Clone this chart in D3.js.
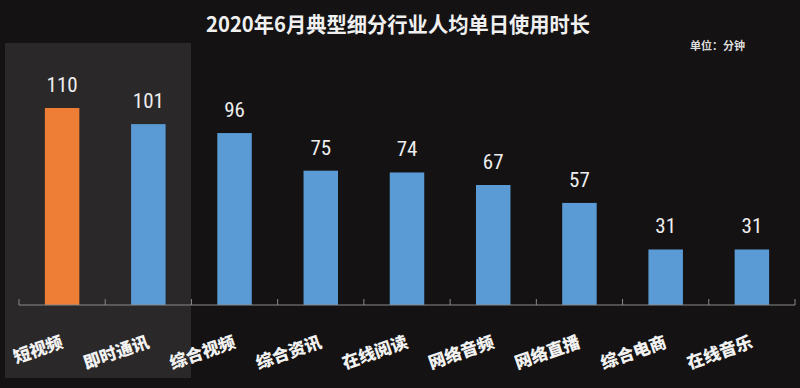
<!DOCTYPE html>
<html><head><meta charset="utf-8">
<script src="https://cdn.jsdelivr.net/npm/d3@7/dist/d3.min.js"></script>
<style>body{margin:0;background:#141213;}svg{display:block;}</style>
</head><body><svg id="c" width="800" height="388"></svg>
<script>
const categories = ["短视频","即时通讯","综合视频","综合资讯","在线阅读","网络音频","网络直播","综合电商","在线音乐"];
const values = [110,101,96,75,74,67,57,31,31];
const title = "2020年6月典型细分行业人均单日使用时长";
const unit = "单位：分钟";

const svg = d3.select("#c");
const W = 800, H = 388;
svg.append("rect").attr("width",W).attr("height",H).attr("fill","#141213");

const x = d3.scaleBand().domain(categories).range([19,795]).paddingInner(0.6).paddingOuter(0.3);
const y = d3.scaleLinear().domain([0,110]).range([305,108]);

// highlight box around the first two categories
svg.append("rect").attr("x",5).attr("y",43).attr("width",186).attr("height",335).attr("fill","#2a2828");

svg.append("text").attr("x",398).attr("y",32).attr("text-anchor","middle")
  .attr("fill","#f0f0f0").attr("font-family","Noto Sans CJK SC").attr("font-weight","bold")
  .attr("font-size",21).attr("textLength",384).attr("lengthAdjust","spacingAndGlyphs").text(title);
svg.append("text").attr("x",690).attr("y",50).attr("fill","#dddddd")
  .attr("font-family","Noto Sans CJK SC").attr("font-weight","bold").attr("font-size",11).text(unit);

svg.selectAll("rect.bar").data(categories).enter().append("rect").attr("class","bar")
  .attr("x",d=>x(d)).attr("width",x.bandwidth())
  .attr("y",(d,i)=>y(values[i])).attr("height",(d,i)=>y(0)-y(values[i]))
  .attr("fill",(d,i)=>i===0?"#ee7d36":"#5b9bd5");

svg.selectAll("text.val").data(categories).enter().append("text").attr("class","val")
  .attr("x",d=>x(d)+x.bandwidth()/2).attr("y",(d,i)=>y(values[i])-16)
  .attr("text-anchor","middle").attr("fill","#eeeeee")
  .attr("font-family","'Liberation Sans Narrow', 'Roboto Condensed', 'DejaVu Sans Condensed', sans-serif").attr("font-size",21)
  .text((d,i)=>values[i]);

// axis
const ax = svg.append("g");
ax.append("line").attr("x1",19).attr("x2",795).attr("y1",305).attr("y2",305).attr("stroke","#8a8a8a").attr("stroke-width",1.2);
const tickXs = categories.map(d=>x(d)-x.step()*x.paddingInner()/2);
tickXs.push(x(categories[categories.length-1])+x.bandwidth()+x.step()*x.paddingInner()/2);
ax.selectAll("line.t").data(tickXs).enter().append("line").attr("class","t")
  .attr("x1",d=>d).attr("x2",d=>d).attr("y1",299).attr("y2",305).attr("stroke","#8a8a8a");

svg.selectAll("text.cat").data(categories).enter().append("text").attr("class","cat")
  .attr("transform",d=>`translate(${x(d)+x.bandwidth()/2+2},347) rotate(-19)`)
  .attr("text-anchor","end").attr("fill","#f2f2f2")
  .attr("font-family","Noto Sans CJK SC").attr("font-weight","900").attr("font-size",17)
  .text(d=>d);
</script></body></html>
